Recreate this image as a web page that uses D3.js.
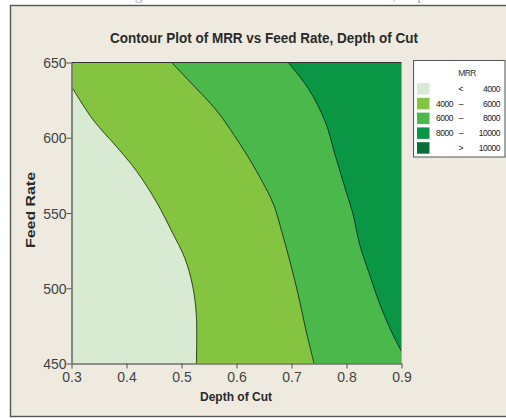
<!DOCTYPE html>
<html>
<head>
<meta charset="utf-8">
<script src="https://cdn.jsdelivr.net/npm/d3@7"></script>
<style>
  html, body { margin: 0; padding: 0; background: #ffffff; }
  svg { display: block; }
</style>
</head>
<body>
<svg id="chart" width="506" height="418"></svg>
<script>
// Axis ticks
const depthTicks = [0.3, 0.4, 0.5, 0.6, 0.7, 0.8, 0.9];
const feedTicks = [450, 500, 550, 600, 650];

// MRR contour levels and legend entries
const levelLow = ["", "4000", "6000", "8000", ""];
const levelSep = ["<", "\u2013", "\u2013", "\u2013", ">"];
const levelHigh = ["4000", "6000", "8000", "10000", "10000"];
const levelColors = ["#d9ead3", "#84c441", "#4ab84a", "#0a9644", "#0a6e35"];

// Contour lines as [depth of cut, feed rate] points
const contour4000 = [
  [0.300, 634], [0.339, 612], [0.382, 594], [0.418, 578], [0.455, 557],
  [0.482, 538], [0.506, 520], [0.520, 502], [0.527, 482], [0.527, 450]
];
const contour6000 = [
  [0.482, 650], [0.521, 635], [0.564, 618], [0.606, 596], [0.636, 578],
  [0.667, 556], [0.682, 538], [0.697, 518], [0.712, 496], [0.727, 471], [0.741, 450]
];
const contour8000 = [
  [0.694, 650], [0.730, 633], [0.761, 611], [0.779, 589], [0.797, 567],
  [0.812, 549], [0.824, 529], [0.842, 509], [0.861, 489], [0.882, 471], [0.900, 458]
];

const svg = d3.select("#chart");
const narrow = "'Liberation Sans Narrow', 'Arial Narrow', 'Liberation Sans', sans-serif";

// Caption line of the surrounding page, mostly above the visible area
svg.append("text")
  .attr("x", 478).attr("y", -0.5)
  .attr("text-anchor", "end")
  .attr("font-family", "'Liberation Serif', serif")
  .attr("font-size", 15)
  .attr("fill", "#aaa")
  .text("Figure 4: Contour Plot of MRR vs Feed Rate, Depth of Cut");

// Chart frame
svg.append("rect")
  .attr("x", 10.5).attr("y", 5.5)
  .attr("width", 510).attr("height", 411)
  .attr("fill", "#eeeae0")
  .attr("stroke", "#555").attr("stroke-width", 1.4);

const x = d3.scaleLinear().domain([0.3, 0.9]).range([71.5, 401.5]);
const y = d3.scaleLinear().domain([450, 650]).range([363.5, 62.5]);

const plot = svg.append("g");
plot.append("defs").append("clipPath").attr("id", "plotClip")
  .append("rect")
  .attr("x", x(0.3)).attr("y", y(650))
  .attr("width", x(0.9) - x(0.3)).attr("height", y(450) - y(650));

const area = plot.append("g").attr("clip-path", "url(#plotClip)");

// Lowest band fills the whole plot
area.append("rect")
  .attr("x", x(0.3)).attr("y", y(650))
  .attr("width", x(0.9) - x(0.3)).attr("height", y(450) - y(650))
  .attr("fill", levelColors[0]);

const curve = d3.line()
  .x(d => x(d[0])).y(d => y(d[1]))
  .curve(d3.curveCatmullRom.alpha(0.5));

// Each band covers everything to the right of its lower contour
const bands = [
  { line: contour4000, corners: [[0.9, 450], [0.9, 650], [0.3, 650]], color: levelColors[1] },
  { line: contour6000, corners: [[0.9, 450], [0.9, 650]], color: levelColors[2] },
  { line: contour8000, corners: [[0.9, 650]], color: levelColors[3] }
];

bands.forEach(b => {
  const tail = b.corners.map(c => `L${x(c[0])},${y(c[1])}`).join("");
  area.append("path")
    .attr("d", curve(b.line) + tail + "Z")
    .attr("fill", b.color)
    .attr("stroke", "none");
});

bands.forEach(b => {
  area.append("path")
    .attr("d", curve(b.line))
    .attr("fill", "none")
    .attr("stroke", "#1a1a1a")
    .attr("stroke-width", 0.8);
});

// Plot border
plot.append("line")
  .attr("x1", x(0.3)).attr("x2", x(0.9))
  .attr("y1", y(650)).attr("y2", y(650))
  .attr("stroke", "#333").attr("stroke-width", 1.2);
plot.append("line")
  .attr("x1", x(0.9)).attr("x2", x(0.9))
  .attr("y1", y(650)).attr("y2", y(450))
  .attr("stroke", "#999").attr("stroke-width", 0.6);

// Axes
const xAxis = svg.append("g")
  .attr("transform", `translate(0,${y(450)})`)
  .call(d3.axisBottom(x).tickValues(depthTicks).tickFormat(d3.format(".1f")).tickSize(5).tickSizeOuter(0));
const yAxis = svg.append("g")
  .attr("transform", `translate(${x(0.3)},0)`)
  .call(d3.axisLeft(y).tickValues(feedTicks).tickFormat(d3.format("d")).tickSize(5).tickSizeOuter(0));

[xAxis, yAxis].forEach(a => {
  a.selectAll("text")
    .attr("font-family", narrow)
    .attr("font-size", 14)
    .attr("fill", "#444");
  a.selectAll(".tick line").attr("stroke", "#555");
});
xAxis.select(".domain").attr("stroke", "#333").attr("stroke-width", 1.2);
yAxis.select(".domain").attr("stroke", "#7a7a7a").attr("stroke-width", 1.8);
xAxis.selectAll("text").attr("dy", "0.95em").attr("y", 5);
yAxis.selectAll("text").attr("x", -5).attr("dy", "0.36em");

// Titles
function fitText(sel, width) {
  sel.attr("textLength", width).attr("lengthAdjust", "spacingAndGlyphs");
}

svg.append("text")
  .attr("x", 264).attr("y", 43)
  .attr("text-anchor", "middle")
  .attr("font-family", narrow)
  .attr("font-weight", "bold")
  .attr("font-size", 14.5)
  .attr("fill", "#2a2a2a")
  .text("Contour Plot of MRR vs Feed Rate, Depth of Cut")
  .call(fitText, 308);

svg.append("text")
  .attr("x", 236).attr("y", 401)
  .attr("text-anchor", "middle")
  .attr("font-family", narrow)
  .attr("font-weight", "bold")
  .attr("font-size", 13.5)
  .attr("fill", "#2a2a2a")
  .text("Depth of Cut")
  .call(fitText, 72);

svg.append("text")
  .attr("transform", "translate(35,210) rotate(-90)")
  .attr("text-anchor", "middle")
  .attr("font-family", narrow)
  .attr("font-weight", "bold")
  .attr("font-size", 13.5)
  .attr("fill", "#2a2a2a")
  .text("Feed Rate")
  .call(fitText, 76);

// Legend
const legend = svg.append("g");
legend.append("rect")
  .attr("x", 413.5).attr("y", 60.5)
  .attr("width", 91.5).attr("height", 96.5)
  .attr("fill", "#ffffff")
  .attr("stroke", "#555").attr("stroke-width", 1);

legend.append("text")
  .attr("x", 467).attr("y", 76)
  .attr("text-anchor", "middle")
  .attr("font-family", "'Liberation Sans', sans-serif")
  .attr("font-size", 8.5)
  .attr("letter-spacing", -0.6)
  .attr("fill", "#333")
  .text("MRR");

const rows = legend.selectAll("g.row")
  .data(levelColors.map((c, i) => ({ c, lo: levelLow[i], sep: levelSep[i], hi: levelHigh[i], i })))
  .join("g")
  .attr("class", "row")
  .attr("transform", d => `translate(0,${83 + d.i * 14.8})`);

rows.append("rect")
  .attr("x", 417).attr("y", 0)
  .attr("width", 12.5).attr("height", 11.5)
  .attr("fill", d => d.c);

const legendFont = "'Liberation Sans', sans-serif";
rows.append("text")
  .attr("x", 436).attr("y", 8.8)
  .attr("font-family", legendFont).attr("font-size", 8.5)
  .attr("letter-spacing", -0.5)
  .attr("fill", "#222")
  .text(d => d.lo);
rows.append("text")
  .attr("x", 461).attr("y", 8.8)
  .attr("text-anchor", "middle")
  .attr("font-family", legendFont).attr("font-size", 8.5)
  .attr("fill", "#222")
  .text(d => d.sep);
rows.append("text")
  .attr("x", 500).attr("y", 8.8)
  .attr("text-anchor", "end")
  .attr("font-family", legendFont).attr("font-size", 8.5)
  .attr("letter-spacing", -0.5)
  .attr("fill", "#222")
  .text(d => d.hi);
</script>
</body>
</html>
